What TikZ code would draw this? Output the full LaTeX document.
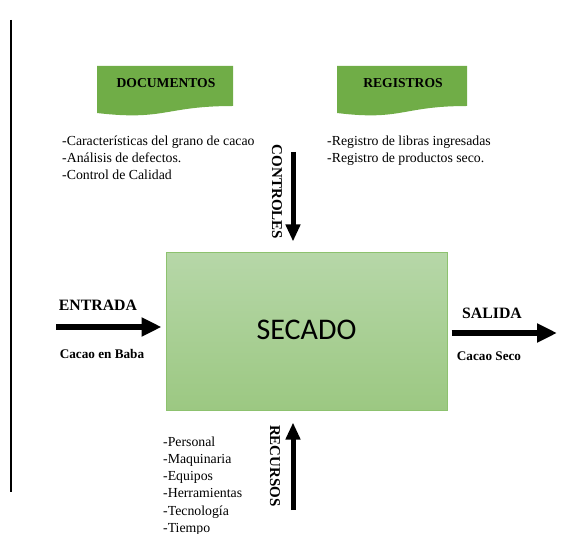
\documentclass[tikz,border=0pt]{standalone}
\usepackage{fontspec}
\setmainfont{Liberation Serif}
\newfontfamily\calibrifont{Carlito}
\usetikzlibrary{calc,positioning,arrows.meta}
\definecolor{bannergreen}{HTML}{70AD47}
\definecolor{boxtop}{HTML}{B6D7A8}
\definecolor{boxbot}{HTML}{9CC882}
\definecolor{boxline}{HTML}{8DC26F}

\begin{document}
\begin{tikzpicture}[x=1pt,y=-1pt]
    \tikzstyle{procbox} = [draw=boxline, line width=1pt, top color=boxtop, bottom color=boxbot, minimum width=281pt, minimum height=157pt, inner sep=0pt, font=\calibrifont\fontsize{30}{36}\selectfont]
    \tikzstyle{banner} = [fill=bannergreen]
    \tikzstyle{btext} = [inner sep=0pt, font=\bfseries\fontsize{13.6}{16}\selectfont]
    \tikzstyle{ltext} = [anchor=north west, align=left, inner sep=0pt, font=\fontsize{13.8}{17.2}\selectfont]
    \tikzstyle{iotext} = [inner sep=0pt, font=\bfseries\fontsize{15.8}{18}\selectfont]
    \tikzstyle{subtext} = [inner sep=0pt, font=\bfseries\fontsize{13.2}{16}\selectfont]
    \tikzstyle{sidetext} = [inner sep=0pt, rotate=-90, font=\bfseries\fontsize{15}{18}\selectfont]
    \tikzstyle{fat} = [line width=6pt, -{Triangle[length=20pt,width=18pt]}]
    \tikzstyle{vfat} = [line width=5pt, -{Triangle[length=17pt,width=14pt]}]

    \useasboundingbox (0,0) rectangle (578,534);
    \draw[line width=1.8pt] (11,20) -- (11,492);

    % banners
    \fill[banner] (97,66) -- (233,66) -- (233,106) .. controls (165,106) and (165,121) .. (97,113) -- cycle;
    \fill[banner] (337,66) -- (467,66) -- (467,106) .. controls (402,106) and (402,121) .. (337,113) -- cycle;
    \node[btext] (docs) at (166,83) {DOCUMENTOS};
    \node[btext] (regs) at (403,83) {REGISTROS};

    \node[ltext] (doclist) at (62,135.5) {-Características del grano de cacao\\-Análisis de defectos.\\-Control de Calidad};
    \node[ltext] (reglist) at (327,135.5) {-Registro de libras ingresadas\\-Registro de productos seco.};

    % process
    \node[procbox] (secado) at (306.5,331.5) {\raisebox{4pt}{SECADO}};

    \node[sidetext] (ctrl) at (277,192) {CONTROLES};
    \coordinate (ctop) at (293,152);
    \draw[vfat, shorten >=11pt] (ctop) -- (ctop |- secado.north);

    \node[sidetext] (recs) at (275,466) {RECURSOS};
    \coordinate (rbot) at (293,510);
    \draw[vfat, shorten >=12pt] (rbot) -- (rbot |- secado.south);

    \node[ltext] (reclist) at (163,436.5) {-Personal\\-Maquinaria\\-Equipos\\-Herramientas\\-Tecnología\\-Tiempo};

    % input / output
    \node[iotext] (entrada) at (98,305) {ENTRADA};
    \node[subtext] (cacaoin) at (102,354) {Cacao en Baba};
    \coordinate (ein) at (56,327);
    \draw[fat, shorten >=4pt] (ein) -- (ein -| secado.west);

    \node[iotext] (salida) at (492,313) {SALIDA};
    \node[subtext] (cacaoout) at (489,356) {Cacao Seco};
    \coordinate (sout) at (557,333);
    \draw[fat, shorten <=4pt] (sout -| secado.east) -- (sout);
\end{tikzpicture}
\end{document}
